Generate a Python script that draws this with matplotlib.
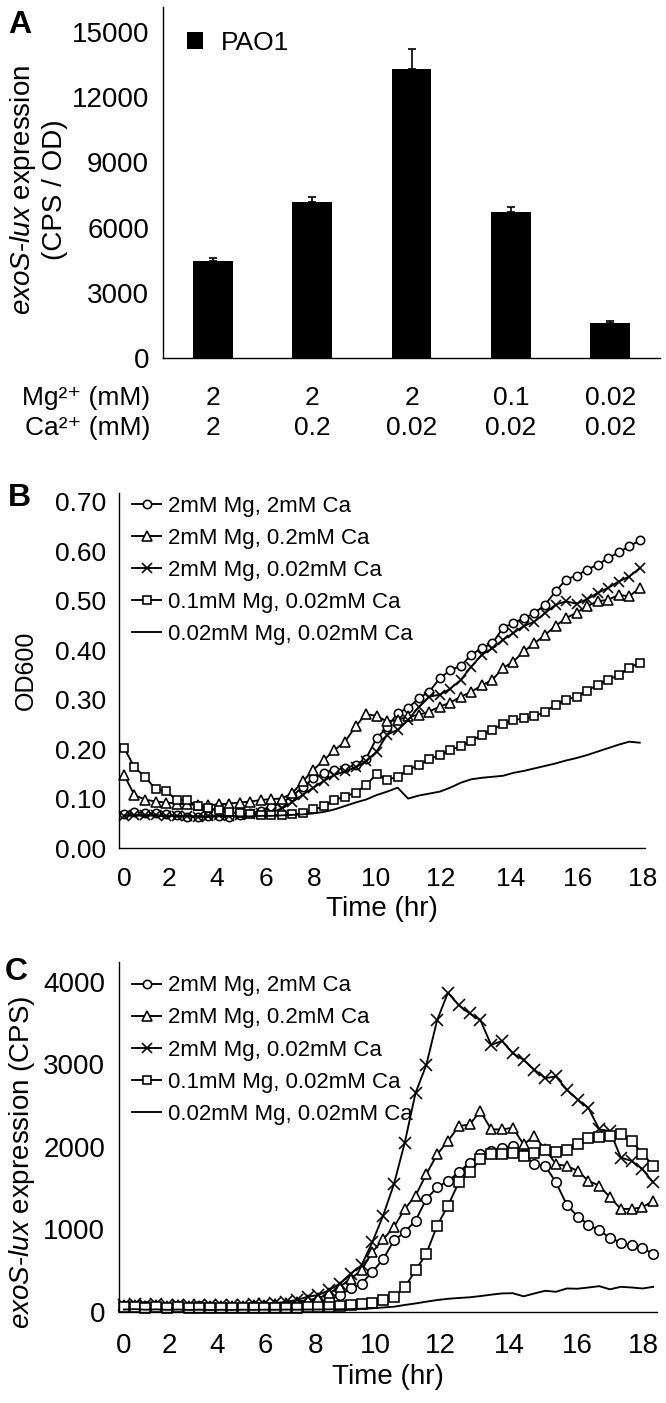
import numpy as np
import matplotlib.pyplot as plt
from matplotlib.transforms import blended_transform_factory

plt.rcParams['font.family'] = ['Liberation Sans', 'DejaVu Sans']
plt.rcParams['mathtext.fontset'] = 'custom'
plt.rcParams['mathtext.rm'] = 'Liberation Sans'
plt.rcParams['mathtext.it'] = 'Liberation Sans:italic'

# ---- Panel A data ----
mg_mM = ['2', '2', '2', '0.1', '0.02']
ca_mM = ['2', '0.2', '0.02', '0.02', '0.02']
pao1 = [4450, 7200, 13300, 6700, 1600]
pao1_err = [150, 200, 900, 250, 120]

# ---- Panels B / C data (one reading every ~20 min, 50 readings) ----
series_labels = ['2mM Mg, 2mM Ca', '2mM Mg, 0.2mM Ca', '2mM Mg, 0.02mM Ca',
                 '0.1mM Mg, 0.02mM Ca', '0.02mM Mg, 0.02mM Ca']
hour_labels = ['0', '2', '4', '6', '8', '10', '12', '14', '16', '18']

od_2mg_2ca = [.068, .072, .071, .070, .068, .066, .063, .062, .064, .065,
              .062, .066, .070, .075, .082, .092, .105, .124, .141, .151,
              .158, .161, .168, .181, .222, .244, .273, .283, .303, .316,
              .343, .360, .368, .391, .404, .414, .445, .455, .465, .475,
              .492, .519, .543, .551, .563, .573, .586, .598, .610, .622]
od_2mg_02ca = [.148, .107, .098, .094, .092, .090, .088, .087, .087, .088,
               .090, .092, .094, .097, .099, .100, .111, .135, .158, .178,
               .198, .215, .246, .271, .267, .256, .259, .266, .269, .276,
               .286, .294, .306, .316, .329, .340, .364, .377, .398, .414,
               .431, .449, .465, .476, .489, .499, .502, .512, .509, .526]
od_2mg_002ca = [.065, .066, .067, .066, .064, .065, .064, .063, .064, .066,
                .064, .066, .068, .070, .072, .080, .093, .108, .122, .136,
                .148, .155, .163, .175, .195, .229, .239, .259, .285, .306,
                .310, .322, .340, .367, .391, .404, .421, .435, .449, .458,
                .475, .492, .499, .494, .503, .516, .526, .539, .549, .566]
od_01mg_002ca = [.203, .163, .144, .119, .115, .097, .097, .085, .080, .076,
                 .072, .070, .068, .067, .067, .067, .068, .070, .078, .084,
                 .097, .104, .112, .127, .150, .138, .144, .158, .168, .179,
                 .188, .198, .206, .217, .229, .239, .251, .259, .262, .266,
                 .276, .289, .300, .306, .318, .330, .340, .350, .364, .375]
od_002mg_002ca = [.066, .066, .065, .066, .065, .064, .065, .064, .063, .064,
                  .065, .064, .064, .065, .065, .066, .067, .068, .070, .073,
                  .078, .085, .092, .098, .107, .114, .122, .100, .106, .110,
                  .114, .122, .132, .139, .142, .144, .146, .152, .156, .161,
                  .166, .171, .177, .182, .188, .195, .202, .209, .215, .213]

cps_2mg_2ca = [70, 75, 68, 72, 66, 70, 64, 68, 62, 66,
               64, 66, 68, 70, 74, 78, 80, 90, 104, 145,
               205, 285, 345, 486, 640, 867, 968, 1108, 1370, 1510,
               1590, 1691, 1811, 1912, 1952, 1992, 2012, 1912, 1791, 1771,
               1570, 1300, 1157, 1060, 988, 900, 840, 810, 780, 700]
cps_2mg_02ca = [80, 84, 78, 82, 76, 80, 74, 78, 72, 76,
                74, 78, 80, 84, 95, 110, 125, 145, 165, 225,
                305, 406, 506, 727, 880, 1030, 1249, 1410, 1671, 1912,
                2072, 2253, 2273, 2434, 2213, 2213, 2233, 2032, 2132, 1972,
                1791, 1771, 1711, 1590, 1530, 1390, 1249, 1249, 1269, 1349]
cps_2mg_002ca = [90, 94, 88, 92, 86, 90, 84, 88, 82, 86,
                 88, 90, 94, 98, 105, 125, 145, 185, 205, 265,
                 345, 466, 566, 847, 1169, 1550, 2052, 2655, 2996, 3538,
                 3871, 3719, 3618, 3538, 3237, 3285, 3136, 3056, 2936, 2835,
                 2855, 2695, 2574, 2474, 2213, 2193, 1871, 1831, 1731, 1570]
cps_01mg_002ca = [55, 60, 52, 58, 50, 55, 48, 52, 46, 50,
                  48, 50, 48, 50, 48, 50, 52, 55, 60, 65,
                  70, 80, 95, 110, 145, 185, 297, 506, 707, 1048,
                  1289, 1570, 1691, 1851, 1912, 1912, 1932, 1892, 1932, 1960,
                  1944, 1960, 2040, 2104, 2120, 2132, 2152, 2072, 1920, 1771]
cps_002mg_002ca = [30, 35, 28, 32, 26, 30, 25, 28, 24, 27,
                   25, 28, 26, 28, 27, 29, 28, 30, 30, 32,
                   33, 35, 40, 45, 55, 64, 85, 104, 125, 145,
                   160, 170, 178, 193, 210, 225, 228, 190, 225, 257,
                   245, 285, 282, 297, 313, 275, 305, 297, 285, 305]

# tick positions (in reading index) where the hour labels sit
tick_pos_b = [0, 4.3, 8.8, 13.5, 18.1, 23.9, 30.1, 36.7, 43.1, 49.3]
tick_pos_c = [0, 4.2, 8.6, 13.1, 17.7, 23.3, 29.3, 35.7, 42.0, 48.1]

W, H = 666, 1403
fig = plt.figure(figsize=(W / 100, H / 100), dpi=100)


def rect(x0, y_top, x1, y_bot):
    return [x0 / W, 1 - y_bot / H, (x1 - x0) / W, (y_bot - y_top) / H]


def style(ax):
    for s in ['top', 'right']:
        ax.spines[s].set_visible(False)
    for s in ['left', 'bottom']:
        ax.spines[s].set_linewidth(1.0)
    ax.tick_params(length=0)


# ---------------- Panel A ----------------
axA = fig.add_axes(rect(163, 7, 660, 358))
style(axA)
x = np.arange(len(pao1))
axA.bar(x, pao1, width=0.4, color='black', label='PAO1')
axA.errorbar(x, pao1, yerr=[np.zeros(len(pao1)), pao1_err], fmt='none',
             ecolor='black', elinewidth=1.2, capsize=3, capthick=1.2)
axA.set_xlim(-0.5, 4.5)
axA.set_ylim(0, 16150)
axA.set_yticks([0, 3000, 6000, 9000, 12000, 15000])
axA.tick_params(axis='y', labelsize=20, pad=10)
axA.set_xticks([])
axA.legend(loc='upper left', bbox_to_anchor=(0.0, 1.0), frameon=False,
           fontsize=19, handlelength=0.6, handleheight=0.6, handletextpad=0.7)
tr = blended_transform_factory(axA.transData, axA.transAxes)
for i in range(len(mg_mM)):
    axA.text(x[i], -0.114, mg_mM[i], transform=tr, ha='center', va='center', fontsize=19)
    axA.text(x[i], -0.199, ca_mM[i], transform=tr, ha='center', va='center', fontsize=19)
fig.text(150 / W, 1 - 398 / H, 'Mg²⁺ (mM)', ha='right', va='center', fontsize=19)
fig.text(150 / W, 1 - 428 / H, 'Ca²⁺ (mM)', ha='right', va='center', fontsize=19)
fig.text(38 / W, 1 - 190 / H, '$\\it{exoS}$-$\\it{lux}$ expression\n(CPS / OD)',
         rotation=90, ha='center', va='center', fontsize=20, multialignment='center',
         linespacing=1.15)
fig.text(8 / W, 1 - 25 / H, 'A', fontsize=23, fontweight='bold', va='center')

# ---------------- Panels B and C ----------------
markers = [dict(marker='o'), dict(marker='^'), dict(marker='x'),
           dict(marker='s'), dict(marker=None)]
sizes = [6, 6.5, 7, 6, 0]


def draw_lines(ax, data, scale):
    n = np.arange(len(data[0]))
    for vals, lab, mk, ms in zip(data, series_labels, markers, sizes):
        ax.plot(n, vals, color='black', lw=1.35, mfc='white', mec='black',
                mew=1.15, ms=ms * scale, label=lab, clip_on=False, **mk)


axB = fig.add_axes(rect(119, 493, 645, 848))
style(axB)
draw_lines(axB, [od_2mg_2ca, od_2mg_02ca, od_2mg_002ca, od_01mg_002ca, od_002mg_002ca], 1.0)
axB.legend(loc='upper left', bbox_to_anchor=(0.0, 1.03), frameon=False,
           fontsize=16, handlelength=1.3, handletextpad=0.3,
           labelspacing=0.5, borderaxespad=0.2)
axB.set_xlim(-0.47, 49.5)
axB.set_ylim(0, 0.718)
axB.set_yticks(np.arange(0, 0.71, 0.1))
axB.set_yticklabels([f'{v:.2f}' for v in np.arange(0, 0.71, 0.1)])
axB.set_xticks(tick_pos_b)
axB.set_xticklabels(hour_labels)
axB.tick_params(axis='y', labelsize=19, pad=9)
axB.tick_params(axis='x', labelsize=19, pad=14)
axB.set_xlabel('Time (hr)', fontsize=20, labelpad=3)
fig.text(26 / W, 1 - 670 / H, 'OD600', rotation=90, ha='center', va='center', fontsize=18)
fig.text(8 / W, 1 - 498 / H, 'B', fontsize=23, fontweight='bold', va='center')

axC = fig.add_axes(rect(119, 962, 657, 1312))
style(axC)
draw_lines(axC, [cps_2mg_2ca, cps_2mg_02ca, cps_2mg_002ca, cps_01mg_002ca, cps_002mg_002ca], 1.15)
axC.legend(loc='upper left', bbox_to_anchor=(0.0, 1.0), frameon=False,
           fontsize=16, handlelength=1.3, handletextpad=0.3,
           labelspacing=0.5, borderaxespad=0.2, markerscale=1 / 1.15)
axC.set_xlim(-0.45, 49.35)
axC.set_ylim(0, 4242)
axC.set_yticks([0, 1000, 2000, 3000, 4000])
axC.set_xticks(tick_pos_c)
axC.set_xticklabels(hour_labels)
axC.tick_params(axis='y', labelsize=20, pad=10)
axC.tick_params(axis='x', labelsize=20, pad=15)
axC.set_xlabel('Time (hr)', fontsize=20, labelpad=4)
fig.text(22 / W, 1 - 1162 / H, '$\\it{exoS}$-$\\it{lux}$ expression (CPS)', rotation=90,
         ha='center', va='center', fontsize=20)
fig.text(5 / W, 1 - 972 / H, 'C', fontsize=23, fontweight='bold', va='center')

fig.savefig('out.png', dpi=100)
